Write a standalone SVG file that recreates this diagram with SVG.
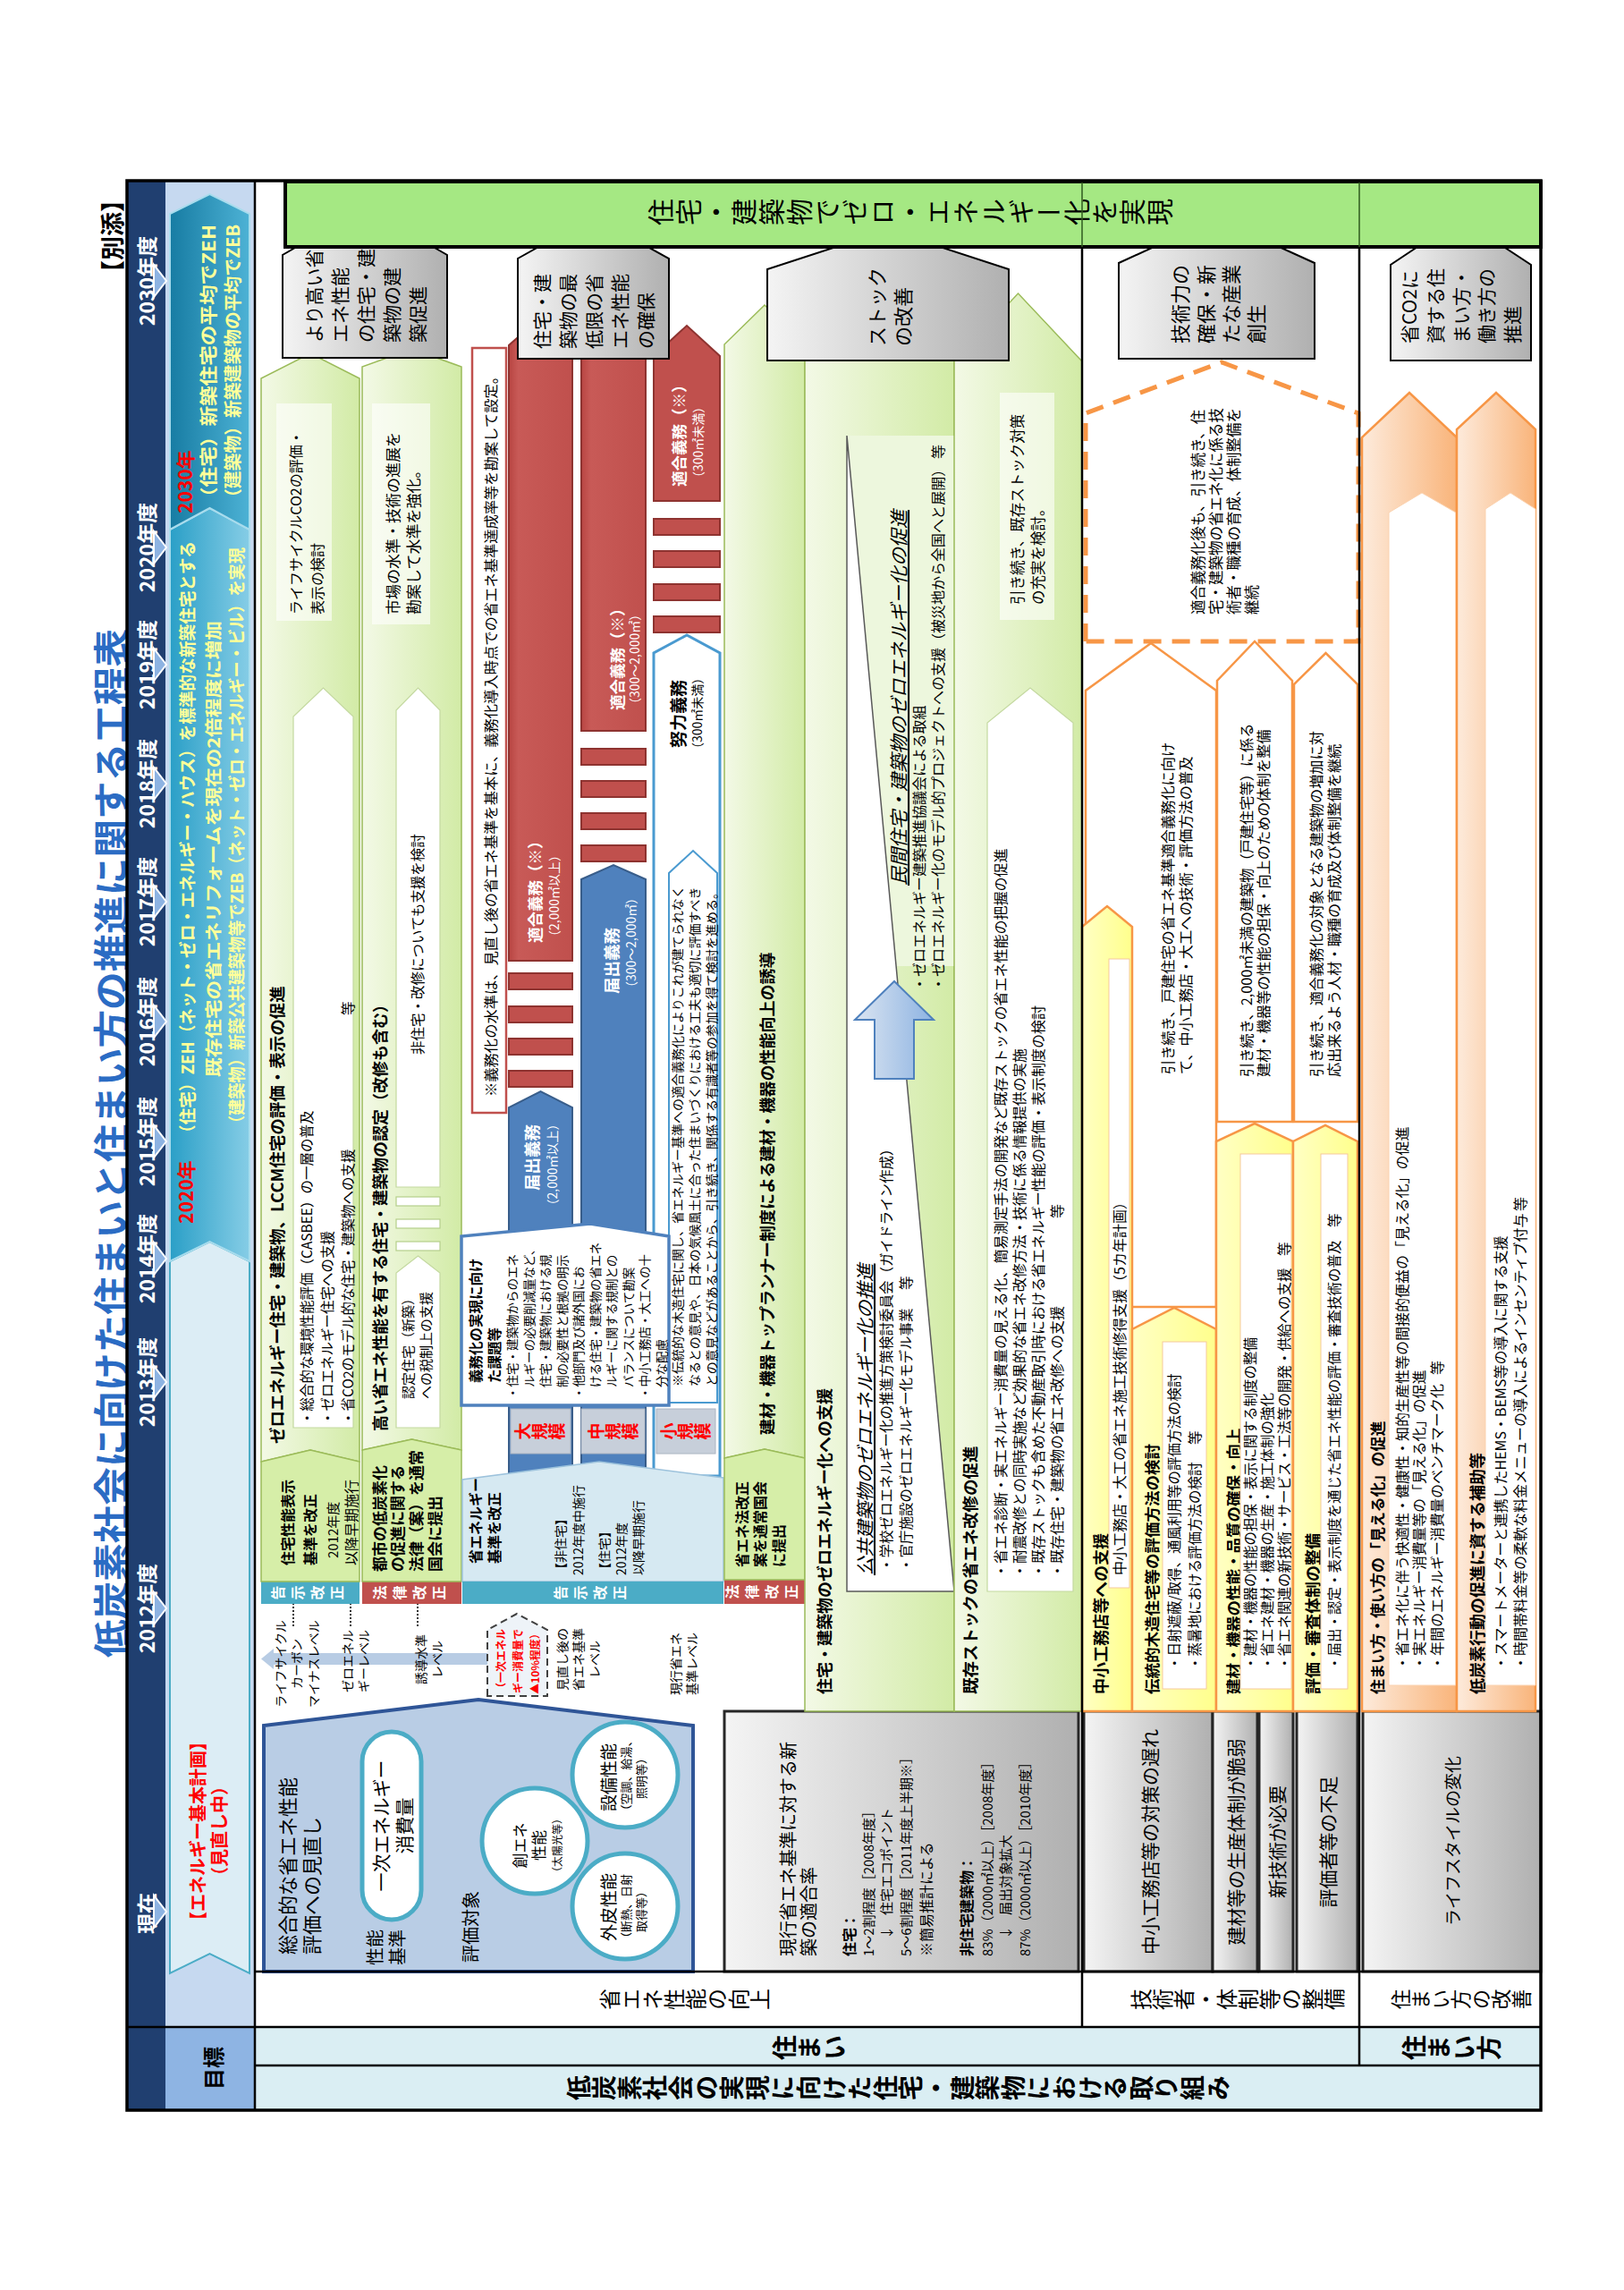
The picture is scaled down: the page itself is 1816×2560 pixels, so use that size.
<svg xmlns="http://www.w3.org/2000/svg" width="1816" height="2560" viewBox="0 0 1816 2560">
<defs>
<style>
text{font-family:"Noto Sans CJK JP","Noto Sans CJK SC",sans-serif;dominant-baseline:central;fill:#000}
.b{font-weight:bold}
.v{writing-mode:vertical-rl}
.w{fill:#fff}
.r{fill:#ff0000}
.yl{fill:#ffff99}
.it{font-style:italic;text-decoration:underline}
.ln{stroke:#000;stroke-width:2.5;fill:none}
.grn{stroke:#9bbb59;stroke-width:1.5}
.org{stroke:#f79646;stroke-width:2.5}
.box{stroke:#262626;stroke-width:3;fill:url(#gGray)}
.house{stroke:#000;stroke-width:2;fill:url(#gGray)}
.red{fill:#c0504d;stroke:#8e3330;stroke-width:2}
.blu{fill:#4f81bd;stroke:#385d8a;stroke-width:2}
.tb{fill:#fff;fill-opacity:.6}
</style>
<linearGradient id="gGray" x1="0" y1="0" x2="0" y2="1"><stop offset="0" stop-color="#f4f4f4"/><stop offset="1" stop-color="#b0b0b0"/></linearGradient>
<linearGradient id="gG" x1="0" y1="0" x2="0" y2="1"><stop offset="0" stop-color="#f3f9e6"/><stop offset="1" stop-color="#d2eba6"/></linearGradient>
<linearGradient id="gOr" x1="0" y1="0" x2="0" y2="1"><stop offset="0" stop-color="#fdebdc"/><stop offset="1" stop-color="#f9b47a"/></linearGradient>
<linearGradient id="gY" x1="0" y1="0" x2="0" y2="1"><stop offset="0" stop-color="#ffffc4"/><stop offset="1" stop-color="#ffff8c"/></linearGradient>
<linearGradient id="gTB" x1="0" y1="0" x2="0" y2="1"><stop offset="0" stop-color="#2a9fc7"/><stop offset="1" stop-color="#86cde6"/></linearGradient>
<linearGradient id="gTC" x1="0" y1="0" x2="0" y2="1"><stop offset="0" stop-color="#177ca3"/><stop offset="1" stop-color="#4db2d5"/></linearGradient>
<linearGradient id="gBA" x1="0" y1="0" x2="0" y2="1"><stop offset="0" stop-color="#dbe5f1"/><stop offset="1" stop-color="#8db3e2"/></linearGradient>
<linearGradient id="gR" x1="0" y1="0" x2="0" y2="1"><stop offset="0" stop-color="#b84542"/><stop offset=".15" stop-color="#c85a57"/><stop offset="1" stop-color="#c0504d"/></linearGradient>
</defs>
<rect width="1816" height="2560" fill="#fff"/>
<g transform="translate(0,2560) rotate(-90)">

<g id="title">
<text class="b" x="1282" y="122" font-size="41" text-anchor="middle" style="fill:#2b6cc4" textLength="1150" lengthAdjust="spacingAndGlyphs">低炭素社会に向けた住まいと住まい方の推進に関する工程表</text>
<text class="b" x="2350" y="124" font-size="27" text-anchor="end">【別添】</text>
</g>

<g id="backgrounds">
<rect x="201" y="142" width="2157" height="43" fill="#203f70"/>
<rect x="201" y="185" width="2157" height="100" fill="#c6d9f0"/>
<rect x="201" y="185" width="93" height="100" fill="#8eb4e3"/>
<rect x="201" y="285" width="93" height="1438" fill="#daeef3"/>
<rect x="294" y="285" width="2064" height="1438" fill="#fff"/>
</g>

<g id="timeline">
<text class="b w" font-size="23" y="163" x="421" text-anchor="middle">現在</text>
<text class="b w" font-size="23" y="163" x="762" text-anchor="middle">2012年度</text>
<text class="b w" font-size="23" y="163" x="1015" text-anchor="middle">2013年度</text>
<text class="b w" font-size="23" y="163" x="1153" text-anchor="middle">2014年度</text>
<text class="b w" font-size="23" y="163" x="1284" text-anchor="middle">2015年度</text>
<text class="b w" font-size="23" y="163" x="1418" text-anchor="middle">2016年度</text>
<text class="b w" font-size="23" y="163" x="1552" text-anchor="middle">2017年度</text>
<text class="b w" font-size="23" y="163" x="1684" text-anchor="middle">2018年度</text>
<text class="b w" font-size="23" y="163" x="1817" text-anchor="middle">2019年度</text>
<text class="b w" font-size="23" y="163" x="1948" text-anchor="middle">2020年度</text>
<text class="b w" font-size="23" y="163" x="2246" text-anchor="middle">2030年度</text>
<g fill="#8db3e2" stroke="#fff" stroke-width="2">
<polygon points="405,172 441,172 423,186"/>
<polygon points="744,172 780,172 762,186"/>
<polygon points="997,172 1033,172 1015,186"/>
<polygon points="1135,172 1171,172 1153,186"/>
<polygon points="1266,172 1302,172 1284,186"/>
<polygon points="1400,172 1436,172 1418,186"/>
<polygon points="1534,172 1570,172 1552,186"/>
<polygon points="1666,172 1702,172 1684,186"/>
<polygon points="1799,172 1835,172 1817,186"/>
<polygon points="1930,172 1966,172 1948,186"/>
<polygon points="2228,172 2264,172 2246,186"/>
</g>
</g>

<g id="goal-row">
<text class="b" x="248" y="237" font-size="24" text-anchor="middle">目標</text>
<polygon points="354,190 1150,190 1172,234.5 1150,279 354,279 376,234.5" fill="#dcedf5" stroke="#4bacc6" stroke-width="2"/>
<text class="b r" x="513" y="220" font-size="20" text-anchor="middle">【エネルギー基本計画】</text>
<text class="b r" x="513" y="244" font-size="20" text-anchor="middle">（見直し中）</text>
<polygon points="1150,190 1968,190 1992,234.5 1968,279 1150,279 1172,234.5" fill="url(#gTB)" stroke="#a8dced" stroke-width="2"/>
<text class="b r" x="1192" y="207" font-size="21">2020年</text>
<text class="b yl" x="1284" y="208" font-size="19" textLength="671" lengthAdjust="spacingAndGlyphs">（住宅）ZEH（ネット・ゼロ・エネルギー・ハウス）を標準的な新築住宅とする</text>
<text class="b yl" x="1356" y="237" font-size="19" textLength="510" lengthAdjust="spacingAndGlyphs">既存住宅の省エネリフォームを現在の2倍程度に増加</text>
<text class="b yl" x="1295" y="263" font-size="19" textLength="653" lengthAdjust="spacingAndGlyphs">（建築物）新築公共建築物等でZEB（ネット・ゼロ・エネルギー・ビル）を実現</text>
<polygon points="1968,190 2321,190 2343,234.5 2321,279 1968,279 1992,234.5" fill="url(#gTC)" stroke="#a8dced" stroke-width="2"/>
<text class="b r" x="1986" y="206" font-size="21">2030年</text>
<text class="b yl" x="1993" y="232" font-size="20" textLength="316" lengthAdjust="spacingAndGlyphs">（住宅）新築住宅の平均でZEH</text>
<text class="b yl" x="1994" y="259" font-size="20" textLength="315" lengthAdjust="spacingAndGlyphs">（建築物）新築建築物の平均でZEB</text>
</g>

<g id="row-headers">
<text class="b v" x="226" y="633" font-size="28" letter-spacing="0.6">低炭素社会の実現に向けた住宅・建築物における取り組み</text>
<text class="b v" x="271" y="863" font-size="28">住まい</text>
<text class="b v" x="271" y="1567" font-size="28">住まい方</text>
<text class="v" x="325" y="670" font-size="24">省エネ性能の向上</text>
<text class="v" x="325" y="1264" font-size="24">技術者・体制等の整備</text>
<text class="v" x="325" y="1555" font-size="22.5">住まい方の改善</text>
</g>

<g id="node-evaluation-review">
<polygon points="356,295 631,295 660,535 631,775 356,775" fill="#b9cde5" stroke="#2f5597" stroke-width="4"/>
<text x="375" y="320" font-size="22">総合的な省エネ性能</text>
<text x="375" y="347" font-size="22">評価への見直し</text>
<text x="363" y="418" font-size="20">性能</text>
<text x="363" y="443" font-size="20">基準</text>
<rect x="414" y="405" width="210" height="66" rx="33" fill="#fff" stroke="#4bacc6" stroke-width="5"/>
<text x="519" y="425" font-size="21" text-anchor="middle">一次エネルギー</text>
<text x="519" y="451" font-size="21" text-anchor="middle">消費量</text>
<text x="366" y="525" font-size="20">評価対象</text>
<circle cx="502" cy="598" r="59" fill="#fff" stroke="#4bacc6" stroke-width="5"/>
<text x="497" y="580" font-size="17" text-anchor="middle">創エネ</text>
<text x="497" y="601" font-size="17" text-anchor="middle">性能</text>
<text x="497" y="622" font-size="12" text-anchor="middle">（太陽光等）</text>
<circle cx="429" cy="699" r="59" fill="#fff" stroke="#4bacc6" stroke-width="5"/>
<text x="428" y="679" font-size="19" text-anchor="middle">外皮性能</text>
<text x="426" y="699" font-size="13" text-anchor="middle">（断熱、日射</text>
<text x="426" y="716" font-size="13" text-anchor="middle">取得等）</text>
<circle cx="576" cy="699" r="59" fill="#fff" stroke="#4bacc6" stroke-width="5"/>
<text x="573" y="679" font-size="19" text-anchor="middle">設備性能</text>
<text x="575" y="699" font-size="13" text-anchor="middle">（空調、給湯、</text>
<text x="575" y="716" font-size="13" text-anchor="middle">照明等）</text>
</g>

<g id="node-current-rate">
<rect x="356" y="810" width="291" height="396" class="box"/>
<text x="373" y="880" font-size="20">現行省エネ基準に対する新</text>
<text x="373" y="903" font-size="20">築の適合率</text>
<text class="b" x="373" y="949" font-size="16">住宅：</text>
<text x="373" y="970" font-size="15">1～2割程度［2008年度］</text>
<text x="392" y="990" font-size="15">↓</text>
<text x="419" y="990" font-size="15">住宅エコポイント</text>
<text x="373" y="1012" font-size="15">5～6割程度［2011年度上半期※］</text>
<text x="373" y="1035" font-size="16">※簡易推計による</text>
<text class="b" x="373" y="1080" font-size="16">非住宅建築物：</text>
<text x="373" y="1103" font-size="15">83%（2000㎡以上）［2008年度］</text>
<text x="392" y="1123" font-size="15">↓</text>
<text x="419" y="1123" font-size="15">届出対象拡大</text>
<text x="373" y="1145" font-size="15">87%（2000㎡以上）［2010年度］</text>
</g>

<g id="node-tech-problems">
<rect x="356" y="1212" width="291" height="144" class="box"/>
<text x="501" y="1285" font-size="21" text-anchor="middle">中小工務店等の対策の遅れ</text>
<rect x="356" y="1356" width="291" height="50" class="box"/>
<text x="501" y="1381" font-size="21" text-anchor="middle">建材等の生産体制が脆弱</text>
<rect x="356" y="1408" width="291" height="38" class="box"/>
<text x="501" y="1427" font-size="21" text-anchor="middle">新技術が必要</text>
<rect x="356" y="1450" width="291" height="68" class="box"/>
<text x="501" y="1484" font-size="21" text-anchor="middle">評価者等の不足</text>
<rect x="356" y="1524" width="291" height="199" class="box"/>
<text x="502" y="1623" font-size="19" text-anchor="middle">ライフスタイルの変化</text>
</g>

<g id="node-levels">
<polygon points="699,304 712,304 712,592 699,592" fill="#b8cce4"/>
<polygon points="694,306 705.5,292 717,306" fill="#b8cce4"/>
<text x="700" y="313" font-size="14" text-anchor="middle">ライフサイクル</text>
<text x="700" y="331" font-size="14" text-anchor="middle">カーボン</text>
<text x="700" y="350" font-size="14" text-anchor="middle">マイナスレベル</text>
<text x="703" y="388" font-size="14" text-anchor="middle">ゼロエネル</text>
<text x="703" y="406" font-size="14" text-anchor="middle">ギーレベル</text>
<text x="705" y="470" font-size="14" text-anchor="middle">誘導水準</text>
<text x="705" y="488" font-size="14" text-anchor="middle">レベル</text>
<polygon points="664,545 738,545 756,578 738,612 664,612" fill="#eef3f8" stroke="#404040" stroke-width="2" stroke-dasharray="8 5"/>
<text class="r b" x="703" y="559" font-size="12" text-anchor="middle">（一次エネル</text>
<text class="r b" x="703" y="578" font-size="12" text-anchor="middle">ギー消費量で</text>
<text class="r b" x="703" y="597" font-size="12" text-anchor="middle">▲10%程度）</text>
<text x="705" y="628" font-size="14" text-anchor="middle">見直し後の</text>
<text x="705" y="646" font-size="14" text-anchor="middle">省エネ基準</text>
<text x="705" y="664" font-size="14" text-anchor="middle">レベル</text>
<text x="700" y="755" font-size="14" text-anchor="middle">現行省エネ</text>
<text x="700" y="773" font-size="14" text-anchor="middle">基準レベル</text>
</g>

<g id="node-arrow-labeling">
<rect x="767" y="292" width="25" height="110" fill="#4bacc6"/>
<text class="b v w" x="779.5" y="347" font-size="16" text-anchor="middle" letter-spacing="6">告示改正</text>
<polygon points="926,292 2137,292 2165,347 2137,402 926,402 939,347" fill="url(#gG)" class="grn"/>
<polygon points="792,292 926,292 939,347 926,402 792,402" fill="#d6eea8" class="grn"/>
<text class="b" x="810" y="321" font-size="16">住宅性能表示</text>
<text class="b" x="810" y="346" font-size="16">基準を改正</text>
<text x="818" y="371" font-size="15">2012年度</text>
<text x="810" y="392" font-size="16">以降早期施行</text>
<text class="b" x="946" y="309" font-size="18.5">ゼロエネルギー住宅・建築物、LCCM住宅の評価・表示の促進</text>
<polygon points="964,328 1759,328 1791,361.5 1759,395 964,395" fill="#fff" stroke="#c4d9a0" stroke-width="1.2"/>
<text x="967" y="342" font-size="15.5">・総合的な環境性能評価（CASBEE）の一層の普及</text>
<text x="967" y="365" font-size="15.5">・ゼロエネルギー住宅への支援</text>
<text x="967" y="388" font-size="15.5">・省CO2のモデル的な住宅・建築物への支援</text>
<text x="1425" y="388" font-size="15.5">等</text>
<rect x="1866" y="309" width="243" height="62" class="tb"/>
<text x="1873" y="330" font-size="16">ライフサイクルCO2の評価・</text>
<text x="1873" y="354" font-size="16">表示の検討</text>
</g>

<g id="node-arrow-certification">
<rect x="767" y="405" width="25" height="111" fill="#c0504d"/>
<text class="b v w" x="779.5" y="461" font-size="16" text-anchor="middle" letter-spacing="6">法律改正</text>
<polygon points="939,405 2150,405 2170,460.5 2150,516 939,516 951,460.5" fill="url(#gG)" class="grn"/>
<polygon points="792,405 939,405 951,460.5 939,516 792,516" fill="#d6eea8" class="grn"/>
<text class="b" x="803" y="423" font-size="17">都市の低炭素化</text>
<text class="b" x="803" y="443" font-size="17">の促進に関する</text>
<text class="b" x="803" y="464" font-size="17">法律（案）を通常</text>
<text class="b" x="803" y="485" font-size="17">国会に提出</text>
<text class="b" x="960" y="424" font-size="18">高い省エネ性能を有する住宅・建築物の認定（改修も含む）</text>
<polygon points="964,443 1137,443 1156,467.5 1137,492 964,492" fill="#fff" stroke="#c4d9a0" stroke-width="1.2"/>
<text x="996" y="455" font-size="15">認定住宅（新築）</text>
<text x="996" y="475" font-size="15">への税制上の支援</text>
<g fill="#fff" stroke="#b5cf8a" stroke-width="1.2">
<rect x="1162" y="443" width="10" height="49"/>
<rect x="1187" y="443" width="10" height="49"/>
<rect x="1212" y="443" width="10" height="49"/>
</g>
<polygon points="1233,443 1766,443 1791,467.5 1766,492 1233,492" fill="#fff" stroke="#c4d9a0" stroke-width="1.2"/>
<text x="1381" y="466" font-size="15.5">非住宅・改修についても支援を検討</text>
<rect x="1862" y="416" width="247" height="65" class="tb"/>
<text x="1873" y="438" font-size="17">市場の水準・技術の進展を</text>
<text x="1873" y="461" font-size="17">勘案して水準を強化。</text>
</g>

<g id="node-obligation">
<polygon points="910,569 1322,569 1340,604.5 1322,640 910,640" class="blu"/>
<polygon points="910,650 1577,650 1593,686 1577,722 910,722" class="blu"/>
<text class="b w" x="1266" y="594" font-size="18.5" text-anchor="middle">届出義務</text>
<text class="w" x="1258" y="617" font-size="14" text-anchor="middle">（2,000㎡以上）</text>
<text class="b w" x="1449" y="683" font-size="18.5">届出義務</text>
<text class="w" x="1449" y="705" font-size="14">（300～2,000㎡）</text>
<g class="red">
<rect x="1345" y="569" width="18" height="71"/>
<rect x="1381" y="569" width="18" height="71"/>
<rect x="1417" y="569" width="18" height="71"/>
<rect x="1454" y="569" width="18" height="71"/>
<polygon points="1486,569 2174,569 2182,578 2182,640 1486,640" style="fill:url(#gR)"/>
<rect x="1597" y="650" width="18" height="72"/>
<rect x="1633" y="650" width="18" height="72"/>
<rect x="1669" y="650" width="18" height="72"/>
<rect x="1705" y="650" width="18" height="72"/>
<rect x="1743" y="650" width="422" height="72" style="fill:url(#gR)"/>
<rect x="1853" y="731" width="18" height="74"/>
<rect x="1889" y="731" width="18" height="74"/>
<rect x="1926" y="731" width="18" height="74"/>
<rect x="1962" y="731" width="18" height="74"/>
<polygon points="2000,731 2162,731 2196,768 2162,805 2000,805"/>
</g>
<text class="b w" x="1506" y="597" font-size="17.5">適合義務（※）</text>
<text class="w" x="1506" y="619" font-size="14">（2,000㎡以上）</text>
<text class="b w" x="1766" y="689" font-size="17.5">適合義務（※）</text>
<text class="w" x="1766" y="709" font-size="14">（300～2,000㎡）</text>
<text class="b w" x="2016" y="758" font-size="17.5">適合義務（※）</text>
<text class="w" x="2019" y="780" font-size="14">（300㎡未満）</text>
<polygon points="910,731 1830,731 1850,768 1830,805 910,805" fill="#fff" stroke="#4a9ad0" stroke-width="3"/>
<text class="b" x="1724" y="757" font-size="19">努力義務</text>
<text x="1716" y="779" font-size="14">（300㎡未満）</text>
<polygon points="992,748 1584,748 1609,775 1584,802 992,802" fill="#fff" stroke="#4a9ad0" stroke-width="2"/>
<text x="1010" y="757" font-size="14">※伝統的な木造住宅に関し、省エネルギー基準への適合義務化によりこれが建てられなく</text>
<text x="1010" y="776" font-size="14">なるとの意見や、日本の気候風土に合った住まいづくりにおける工夫も適切に評価すべき</text>
<text x="1010" y="795" font-size="14">との意見などがあることから、引き続き、関係する有識者等の参加を得て検討を進める。</text>
<polygon points="792,517 906,517 926,670 908,809 792,809" fill="#d6e9f2" stroke="#9cc2dc" stroke-width="1.5"/>
<rect x="767" y="517" width="25" height="292" fill="#4bacc6"/>
<text class="b v w" x="779.5" y="663" font-size="16" text-anchor="middle" letter-spacing="6">告示改正</text>
<text class="b" x="812" y="531" font-size="16">省エネルギー</text>
<text class="b" x="812" y="552" font-size="16">基準を改正</text>
<text x="799" y="626" font-size="14">【非住宅】</text>
<text x="799" y="646" font-size="14">2012年度中施行</text>
<text x="799" y="675" font-size="14">【住宅】</text>
<text x="799" y="694" font-size="14">2012年度</text>
<text x="799" y="713" font-size="14">以降早期施行</text>
<g fill="#c7cfda" stroke="#aab4c2" stroke-width="1">
<rect x="935" y="571" width="50" height="67"/>
<rect x="935" y="650" width="50" height="71"/>
<rect x="935" y="734" width="50" height="66"/>
</g>
<text class="b v r" x="960" y="604" font-size="19" text-anchor="middle">大規模</text>
<text class="b v r" x="960" y="686" font-size="19" text-anchor="middle">中規模</text>
<text class="b v r" x="960" y="767" font-size="19" text-anchor="middle">小規模</text>
<polygon points="989,516 1178,516 1192,660 1178,748 989,748" fill="#fff" stroke="#4f81bd" stroke-width="3.5"/>
<text class="b" x="1014" y="531" font-size="15.5">義務化の実現に向け</text>
<text class="b" x="1014" y="552" font-size="15.5">た課題等</text>
<g font-size="13.5">
<text x="996" y="572">・住宅・建築物からのエネ</text>
<text x="1009" y="590.5">ルギーの必要削減量など、</text>
<text x="1009" y="609">住宅・建築物における規</text>
<text x="1009" y="627.5">制の必要性と根拠の明示</text>
<text x="996" y="646">・他部門及び諸外国にお</text>
<text x="1009" y="664.5">ける住宅・建築物の省エネ</text>
<text x="1009" y="683">ルギーに関する規制との</text>
<text x="1009" y="701.5">バランスについて勘案</text>
<text x="996" y="720">・中小工務店・大工への十</text>
<text x="1009" y="738.5">分な配慮</text>
</g>
<rect x="1316" y="528" width="855" height="38" fill="#fff" stroke="#c0504d" stroke-width="2.5"/>
<text x="1334" y="548" font-size="16.3">※義務化の水準は、見直し後の省エネ基準を基本に、義務化導入時点での省エネ基準達成率等を勘案して設定。</text>
</g>

<g id="node-arrow-toprunner">
<rect x="767" y="810" width="27" height="90" fill="#c0504d"/>
<text class="b v w" x="780.5" y="855" font-size="16" text-anchor="middle" letter-spacing="6">法律改正</text>
<polygon points="930,810 2175,810 2219,855 2175,900 930,900 940,855" fill="url(#gG)" class="grn"/>
<polygon points="794,810 930,810 940,855 930,900 794,900" fill="#d6eea8" class="grn"/>
<text class="b" x="808" y="829" font-size="16">省エネ法改正</text>
<text class="b" x="808" y="849" font-size="16">案を通常国会</text>
<text class="b" x="808" y="870" font-size="16">に提出</text>
<text class="b" x="956" y="857" font-size="18">建材・機器トップランナー制度による建材・機器の性能向上の誘導</text>
</g>

<g id="node-arrow-zero-energy">
<polygon points="647,900 2170,900 2210,983.5 2170,1067 647,1067" fill="url(#gG)" class="grn"/>
<text class="b" x="666" y="921" font-size="18">住宅・建築物のゼロエネルギー化への支援</text>
<rect x="1480" y="947" width="593" height="120" fill="#edf7dd"/>
<polygon points="781,947 781,1067 2073,947" fill="#fff" stroke="#595959" stroke-width="1.5"/>
<text class="it" x="799" y="966" font-size="20.5">公共建築物のゼロエネルギー化の推進</text>
<text x="803" y="990" font-size="15.5">・学校ゼロエネルギー化の推進方策検討委員会（ガイドライン作成）</text>
<text x="803" y="1012" font-size="15.5">・官庁施設のゼロエネルギー化モデル事業</text>
<text x="1118" y="1012" font-size="15.5">等</text>
<polygon points="1354,978 1420,978 1420,956 1463,1000 1420,1044 1420,1022 1354,1022" fill="url(#gBA)" stroke="#4f81bd" stroke-width="2"/>
<text class="it" x="1570" y="1004" font-size="21">民間住宅・建築物のゼロエネルギー化の促進</text>
<text x="1452" y="1027" font-size="16">・ゼロエネルギー建築推進協議会による取組</text>
<text x="1452" y="1048" font-size="16">・ゼロエネルギー化のモデル的プロジェクトへの支援（被災地から全国へと展開）</text>
<text x="2047" y="1048" font-size="16">等</text>
</g>

<g id="node-arrow-stock">
<polygon points="647,1067 2156,1067 2232,1138.5 2156,1210 647,1210" fill="url(#gG)" class="grn"/>
<text class="b" x="666" y="1084" font-size="18.5">既存ストックの省エネ改修の促進</text>
<polygon points="781,1104 1752,1104 1791,1152 1752,1200 781,1200" fill="#fff" stroke="#c4d9a0" stroke-width="1.2"/>
<g font-size="16">
<text x="796" y="1118">・省エネ診断・実エネルギー消費量の見える化、簡易測定手法の開発など既存ストックの省エネ性能の把握の促進</text>
<text x="796" y="1139">・耐震改修との同時実施など効果的な省エネ改修方法・技術に係る情報提供の実施</text>
<text x="796" y="1160">・既存ストックも含めた不動産取引時における省エネルギー性能の評価・表示制度の検討</text>
<text x="796" y="1181">・既存住宅・建築物の省エネ改修への支援</text>
<text x="1198" y="1181">等</text>
</g>
<rect x="1867" y="1118" width="254" height="61" class="tb"/>
<text x="1884" y="1137" font-size="16.5">引き続き、既存ストック対策</text>
<text x="1884" y="1160" font-size="16.5">の充実を検討。</text>
</g>

<g id="node-tech-future">
<polygon points="1843,1214 2098,1214 2155,1366 2098,1519 1843,1519" fill="#fff" stroke="#f79646" stroke-width="5" stroke-dasharray="20 12"/>
<g font-size="16.5">
<text x="1873" y="1339">適合義務化後も、引き続き、住</text>
<text x="1873" y="1359">宅・建築物の省エネ化に係る技</text>
<text x="1873" y="1379">術者・職種の育成、体制整備を</text>
<text x="1873" y="1399">継続</text>
</g>
<polygon points="1099,1214 1788,1214 1841,1287 1788,1360 1099,1360" fill="#fff" class="org"/>
<polygon points="1306,1361 1799,1361 1843,1403 1799,1445 1306,1445" fill="#fff" class="org"/>
<polygon points="1306,1447 1795,1447 1830,1482.5 1795,1518 1306,1518" fill="#fff" class="org"/>
<g font-size="16.2">
<text x="1359" y="1305">引き続き、戸建住宅の省エネ基準適合義務化に向け</text>
<text x="1359" y="1325">て、中小工務店・大工への技術・評価方法の普及</text>
<text x="1356" y="1393">引き続き、2,000㎡未満の建築物（戸建住宅等）に係る</text>
<text x="1356" y="1412">建材・機器等の性能の担保・向上のための体制を整備</text>
<text x="1356" y="1471">引き続き、適合義務化の対象となる建築物の増加に対</text>
<text x="1356" y="1491">応出来るよう人材・職種の育成及び体制整備を継続</text>
</g>
</g>

<g id="node-tech-support">
<polygon points="647,1210 1524,1210 1547,1238 1524,1266 647,1266" fill="url(#gY)" class="org"/>
<text class="b" x="666" y="1230" font-size="18">中小工務店等への支援</text>
<rect x="785" y="1240" width="703" height="23" fill="#fff" stroke="#f5c99c" stroke-width="1"/>
<text x="799" y="1251" font-size="16">中小工務店・大工の省エネ施工技術修得支援（5カ年計画）</text>
<polygon points="647,1266 1074,1266 1098,1313 1074,1360 647,1360" fill="url(#gY)" class="org"/>
<text class="b" x="666" y="1287" font-size="17.5">伝統的木造住宅等の評価方法の検討</text>
<rect x="672" y="1300" width="388" height="49" fill="#fff" stroke="#f5c99c" stroke-width="1"/>
<text x="693" y="1312" font-size="15.5">・日射遮蔽/取得、通風利用等の評価方法の検討</text>
<text x="693" y="1335" font-size="15.5">・蒸暑地における評価方法の検討</text>
<text x="945" y="1335" font-size="15.5">等</text>
<polygon points="647,1360 1284,1360 1304,1403 1284,1446 647,1446" fill="url(#gY)" class="org"/>
<text class="b" x="666" y="1378" font-size="17.5">建材・機器の性能・品質の確保・向上</text>
<rect x="672" y="1387" width="598" height="57" fill="#fff" stroke="#f5c99c" stroke-width="1"/>
<text x="693" y="1397" font-size="15.5">・建材・機器の性能の担保・表示に関する制度の整備</text>
<text x="693" y="1416" font-size="15.5">・省エネ建材・機器の生産・施工体制の強化</text>
<text x="693" y="1435" font-size="15.5">・省エネ関連の新技術・サービス・工法等の開発・供給への支援</text>
<text x="1156" y="1435" font-size="15.5">等</text>
<polygon points="647,1446 1284,1446 1302,1482 1284,1518 647,1518" fill="url(#gY)" class="org"/>
<text class="b" x="666" y="1467" font-size="18">評価・審査体制の整備</text>
<rect x="672" y="1477" width="598" height="30" fill="#fff" stroke="#f5c99c" stroke-width="1"/>
<text x="693" y="1491" font-size="15.5">・届出・認定・表示制度を通じた省エネ性能の評価・審査技術の普及</text>
<text x="1188" y="1491" font-size="15.5">等</text>
</g>

<g id="node-lifestyle">
<polygon points="647,1523 2071,1523 2121,1576 2071,1629 647,1629" fill="url(#gOr)" class="org"/>
<polygon points="676,1553 1987,1553 2009,1590 1987,1628 676,1628" fill="#fff" stroke="#fbd3b0" stroke-width="1"/>
<text class="b" x="666" y="1539" font-size="17">住まい方・使い方の「見える化」の促進</text>
<g font-size="16">
<text x="693" y="1567">・省エネ化に伴う快適性・健康性・知的生産性等の間接的便益の「見える化」の促進</text>
<text x="693" y="1586">・実エネルギー消費量等の「見える化」の促進</text>
<text x="693" y="1606">・年間のエネルギー消費量のベンチマーク化</text>
<text x="1023" y="1606">等</text>
</g>
<polygon points="647,1629 2080,1629 2121,1673 2080,1717 647,1717" fill="url(#gOr)" class="org"/>
<polygon points="676,1661 1991,1661 2009,1689 1991,1717 676,1717" fill="#fff" stroke="#fbd3b0" stroke-width="1"/>
<text class="b" x="666" y="1651" font-size="18">低炭素行動の促進に資する補助等</text>
<g font-size="16">
<text x="693" y="1677">・スマートメーターと連携したHEMS・BEMS等の導入に関する支援</text>
<text x="693" y="1699">・時間帯料金等の柔軟な料金メニューの導入によるインセンティブ付与</text>
<text x="1206" y="1699">等</text>
</g>
</g>

<g id="node-goal-houses">
<polygon points="2160,316 2275,316 2328,408 2275,500 2160,500" class="house"/>
<g font-size="21">
<text x="2177" y="350">より高い省</text>
<text x="2177" y="379">エネ性能</text>
<text x="2177" y="408">の住宅・建</text>
<text x="2177" y="437">築物の建</text>
<text x="2177" y="466">築促進</text>
</g>
<polygon points="2159,579 2271,579 2318,663 2271,748 2159,748" class="house"/>
<g font-size="21">
<text x="2170" y="605">住宅・建</text>
<text x="2170" y="634">築物の最</text>
<text x="2170" y="663">低限の省</text>
<text x="2170" y="692">エネ性能</text>
<text x="2170" y="721">の確保</text>
</g>
<polygon points="2157,858 2259,858 2303,993 2259,1128 2157,1128" class="house"/>
<text x="2173" y="979" font-size="22">ストック</text>
<text x="2173" y="1008" font-size="22">の改善</text>
<polygon points="2159,1251 2266,1251 2316,1360 2266,1470 2159,1470" class="house"/>
<g font-size="22">
<text x="2176" y="1318">技術力の</text>
<text x="2176" y="1347">確保・新</text>
<text x="2176" y="1375">たな産業</text>
<text x="2176" y="1403">創生</text>
</g>
<polygon points="2157,1555 2264,1555 2316,1633 2264,1712 2157,1712" class="house"/>
<g font-size="21">
<text x="2176" y="1575">省CO2に</text>
<text x="2176" y="1604">資する住</text>
<text x="2176" y="1633">まい方・</text>
<text x="2176" y="1661">働き方の</text>
<text x="2176" y="1690">推進</text>
</g>
</g>

<g id="node-banner">
<rect x="2284" y="319" width="73" height="1404" fill="#a5e883" stroke="#000" stroke-width="4"/>
<text class="v" x="2323" y="724" font-size="30" letter-spacing="1">住宅・建築物でゼロ・エネルギー化を実現</text>
</g>

<g id="connectors">
<g stroke="#333" stroke-width="2" stroke-dasharray="2 2">
<line x1="742" y1="328" x2="767" y2="328"/>
<line x1="742" y1="392" x2="767" y2="392"/>
<line x1="742" y1="467" x2="767" y2="467"/>
</g>
</g>

<g id="grid-lines">
<line class="ln" x1="201" y1="285" x2="2358" y2="285" stroke-width="3"/>
<line class="ln" x1="294" y1="142" x2="294" y2="1723"/>
<line class="ln" x1="251" y1="285" x2="251" y2="1723"/>
<line class="ln" x1="356" y1="285" x2="356" y2="1723"/>
<line class="ln" x1="294" y1="1210" x2="2284" y2="1210"/>
<line class="ln" x1="251" y1="1520" x2="2284" y2="1520" stroke-width="4"/>
<line x1="2284" y1="1210" x2="2357" y2="1210" stroke="#2f5a1e" stroke-width="1.5"/>
<line x1="2284" y1="1520" x2="2357" y2="1520" stroke="#2f5a1e" stroke-width="1.5"/>
<rect x="201" y="142" width="2157" height="1581" fill="none" stroke="#000" stroke-width="3.5"/>
</g>
</g>
</svg>
